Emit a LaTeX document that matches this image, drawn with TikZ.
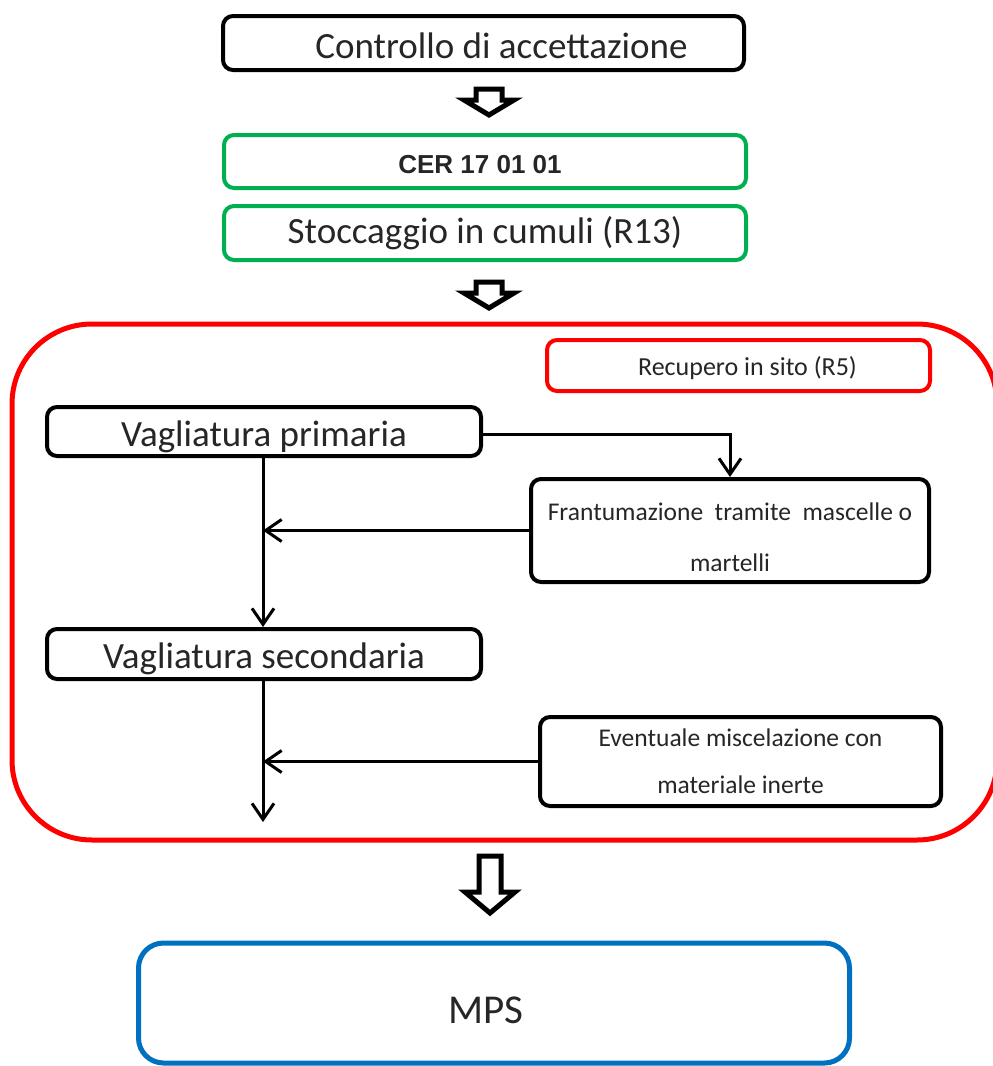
\documentclass[tikz,border=0pt]{standalone}
\usepackage{fontspec}
\setmainfont{Carlito}
\newfontfamily\arialfont{Liberation Sans}
\usetikzlibrary{arrows.meta}
\definecolor{mygreen}{HTML}{00B050}
\definecolor{myred}{HTML}{FF0000}
\definecolor{myblue}{HTML}{0070C0}
\newcommand{\hollowdown}[6]{% x, top, neck, tip, shaft half, head half
  \draw[hollowarrow] (#1-#5,#2) -- (#1+#5,#2) -- (#1+#5,#3) -- (#1+#6,#3) -- (#1,#4) -- (#1-#6,#3) -- (#1-#5,#3) -- cycle;}
\newcommand{\dn}[2]{\raisebox{-#1pt}[\height][\depth]{#2}}
\begin{document}
\begin{tikzpicture}[x=1pt,y=-1pt,
  box/.style={draw, line width=4pt, rounded corners=10pt, inner sep=0pt, align=center, text=black!85},
  blackbox/.style={box, draw=black},
  greenbox/.style={box, draw=mygreen},
  redbox/.style={box, draw=myred},
  bigfont/.style={font=\fontsize{37}{44}\selectfont},
  smallfont/.style={font=\fontsize{25.5}{52}\selectfont},
  conn/.style={line width=3pt, -{Straight Barb[length=16pt, width=22pt, line width=3pt]}},
  hollowarrow/.style={line width=5pt, draw=black, fill=white, line join=miter}
]
\useasboundingbox (0,0) rectangle (993,1066);

% big red frame
\draw[myred, line width=5pt, rounded corners=80pt] (12,324) rectangle (997,840);

\node[blackbox, bigfont, minimum width=521pt, minimum height=54pt] (ctrl) at (483.5,43) {\hspace*{36pt}\dn{3}{Controllo di accettazione}};
\node[greenbox, minimum width=522pt, minimum height=53pt, font=\arialfont\bfseries\fontsize{26}{30}\selectfont] (cer) at (485,161.5) {\hspace*{-10pt}\dn{3}{CER 17 01 01}};
\node[greenbox, bigfont, minimum width=522pt, minimum height=54pt] (stoc) at (485,233) {Stoccaggio in cumuli (R13)};

\node[redbox, minimum width=383pt, minimum height=51pt, font=\fontsize{26}{30}\selectfont] (rec) at (738.5,365.5) {\hspace*{18pt}\dn{3}{Recupero in sito (R5)}};
\node[blackbox, bigfont, minimum width=434pt, minimum height=49pt] (vp) at (264,431.5) {\dn{5}{Vagliatura primaria}};
\node[blackbox, smallfont, minimum width=398pt, minimum height=101pt] (fr) at (730,530.5) {\dn{5}{\begin{tabular}{@{}c@{}}Frantumazione\ \ tramite\ \ mascelle o\\[-1pt] martelli\end{tabular}}};
\node[blackbox, bigfont, minimum width=434pt, minimum height=50pt] (vs) at (264,654) {\dn{5}{Vagliatura secondaria}};
\node[blackbox, font=\fontsize{25.5}{47}\selectfont, minimum width=401pt, minimum height=89pt] (ev) at (740.5,761.5) {Eventuale miscelazione con\\ materiale inerte};
\node[box, draw=myblue, line width=5pt, rounded corners=25pt, font=\fontsize{41}{48}\selectfont, minimum width=711pt, minimum height=120pt] (mps) at (494,1003) {\hspace*{-16pt}\dn{7}{MPS}};

\coordinate (end) at (263,822);

% connectors
\draw[conn] ([yshift=-3pt]vp.east) -| (fr.north);
\draw[conn] ([xshift=-1pt]vp.south) -- ([xshift=-1pt]vs.north);
\draw[conn] (fr.west) -- (fr.west -| end);
\draw[conn] ([xshift=-1pt]vs.south) -- (end);
\draw[conn] (ev.west) -- (ev.west -| end);

% hollow block arrows
\hollowdown{489}{89}{100}{115}{13}{25}
\hollowdown{489}{282}{293}{308}{13}{25}
\hollowdown{490}{856}{892}{913}{11}{25}
\end{tikzpicture}
\end{document}
